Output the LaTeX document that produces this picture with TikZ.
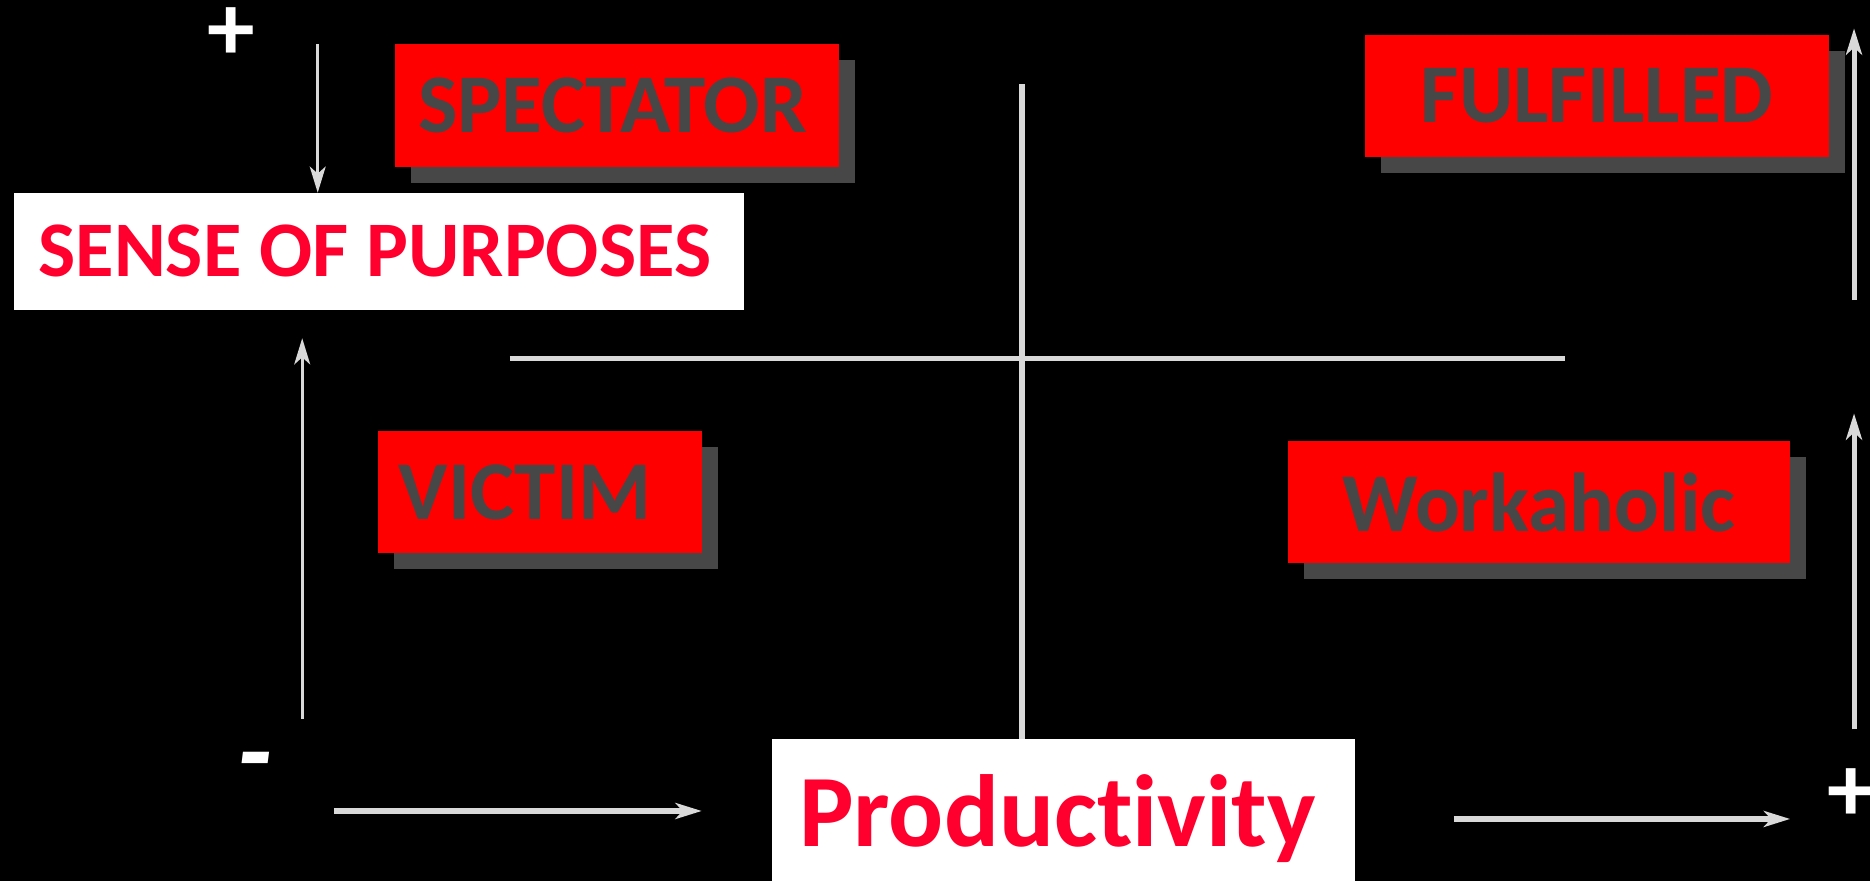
\documentclass[tikz,border=0pt]{standalone}
\usepackage{fontspec}
\setmainfont{Carlito}[Ligatures=NoCommon]
\usetikzlibrary{arrows.meta,shadows}
\definecolor{boxred}{HTML}{FF0000}
\definecolor{shadowgray}{HTML}{474747}
\definecolor{boxtext}{HTML}{474747}
\definecolor{labelred}{HTML}{FF002E}
\definecolor{axisgray}{HTML}{D9D9D9}
\begin{document}
\begin{tikzpicture}[x=1pt,y=-1pt,
  redbox/.style={fill=boxred, inner sep=0pt, text=boxtext,
    font=\fontsize{70}{84}\selectfont\bfseries,
    drop shadow={shadow xshift=13.5pt, shadow yshift=-13.5pt, fill=shadowgray, opacity=1}},
  whitebox/.style={fill=white, inner sep=0pt, text=labelred},
  sign/.style={text=white, inner sep=0pt, font=\fontsize{80}{96}\selectfont\bfseries},
  axis/.style={draw=axisgray, line width=4.5pt},
  thinaxis/.style={draw=axisgray, line width=2.2pt},
  tip/.style={-{Stealth[length=22pt,width=13.4pt,inset=6pt]}}
]
\useasboundingbox (0,0) rectangle (1568,739);
\fill[black] (0,0) rectangle (1568,739);

% quadrant labels
\node[redbox, minimum width=372.5pt, minimum height=102.9pt] (spectator) at (517.25,88.35) {SPECTATOR\kern7pt};
\node[redbox, minimum width=389pt, minimum height=102.6pt] (fulfilled) at (1339.1,80.6) {FULFILLED};
\node[redbox, minimum width=271.6pt, minimum height=102.6pt] (victim) at (452.8,412.7) {VICTIM\kern25pt};
\node[redbox, minimum width=421pt, minimum height=102.6pt] (workaholic) at (1290.5,421.1) {Workaholic};

% axis titles
\node[whitebox, font=\fontsize{66}{80}\selectfont\bfseries, minimum width=612.5pt, minimum height=97.9pt] (sense) at (317.75,210.75) {SENSE OF PURPOSES\kern7pt};
\node[whitebox, font=\fontsize{86}{100}\selectfont\bfseries, minimum width=489pt, minimum height=134.4pt, text height=60pt, text depth=15pt] (prod) at (891.7,686.9) {Productivity\kern10pt};

% signs
\node[sign] (plustop) at (194.2,28.5) {+};
\node[sign] (plusright) at (1552,667) {+};
\node[sign, font=\fontsize{96}{110}\selectfont\bfseries\itshape] (minus) at (213.5,646.5) {-};

% quadrant cross
\coordinate (hl) at (427.5,300.5);
\coordinate (hr) at (1312,300.5);
\coordinate (vt) at (857,70.7);
\draw[axis] (hl) -- (hr);
\draw[axis] (vt) -- (vt |- prod.north);

% vertical axis arrows (left)
\coordinate (a1s) at (266.4,36.9);
\draw[thinaxis, tip] (a1s) -- (a1s |- sense.north);
\coordinate (a2s) at (253.4,603);
\coordinate (a2e) at (253.4,283.6);
\draw[thinaxis, tip] (a2s) -- (a2e);

% horizontal axis arrows (bottom)
\coordinate (b1s) at (280,680);
\coordinate (b1e) at (588.4,680);
\draw[axis, tip] (b1s) -- (b1e);
\coordinate (b2s) at (1219,686.7);
\coordinate (b2e) at (1501,686.7);
\draw[axis, tip] (b2s) -- (b2e);

% right arrows
\coordinate (r1s) at (1554.6,251.6);
\coordinate (r1e) at (1554.6,23.8);
\draw[line width=4.2pt, draw=axisgray, tip] (r1s) -- (r1e);
\coordinate (r2s) at (1554.6,611.5);
\coordinate (r2e) at (1554.6,346.6);
\draw[line width=4.2pt, draw=axisgray, tip] (r2s) -- (r2e);
\end{tikzpicture}
\end{document}
